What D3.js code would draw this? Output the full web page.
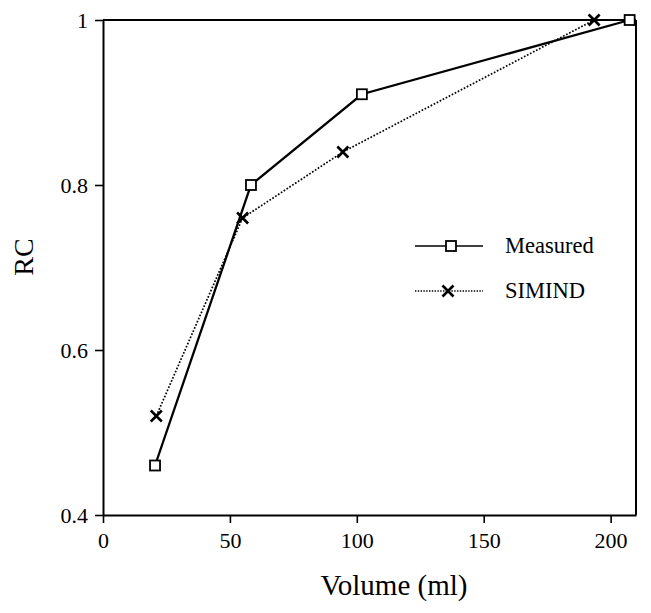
<!DOCTYPE html>
<html>
<head>
<meta charset="utf-8">
<script src="https://cdn.jsdelivr.net/npm/d3@7"></script>
<style>
  body { margin: 0; background: #fff; }
</style>
</head>
<body>
<div id="chart"></div>
<script>
// data
const measuredVolume = [20.5, 58.3, 102, 207.5];
const measuredRC     = [0.46, 0.80, 0.91, 1.0];
const simindVolume   = [21, 55, 94.5, 193.5];
const simindRC       = [0.52, 0.76, 0.84, 1.0];
const xTicks = [0, 50, 100, 150, 200];
const yTicks = [0.4, 0.6, 0.8, 1];
const legendNames = ["Measured", "SIMIND"];

const serif = "'Liberation Serif', 'Times New Roman', Times, 'DejaVu Serif', serif";

const W = 651, H = 613;
const margin = { top: 20, right: 15, bottom: 98, left: 103 };
const width = W - margin.left - margin.right;
const height = H - margin.top - margin.bottom;

const xScale = d3.scaleLinear().domain([0, 210]).range([0, width]);
const yScale = d3.scaleLinear().domain([0.4, 1]).range([height, 0]);

const svg = d3.select('#chart')
  .append('svg')
  .attr('width', W)
  .attr('height', H)
  .attr('font-family', serif)
  .append('g')
  .attr('transform', `translate(${margin.left}, ${margin.top})`);

// frame (top and right, no ticks)
svg.append('line')
  .attr('x1', 0).attr('x2', width).attr('y1', 0).attr('y2', 0)
  .attr('stroke', '#000').attr('stroke-width', 2);
svg.append('line')
  .attr('x1', width).attr('x2', width).attr('y1', 0).attr('y2', height)
  .attr('stroke', '#000').attr('stroke-width', 2);

// axes
const xAxis = svg.append('g')
  .attr('transform', `translate(0, ${height})`)
  .call(d3.axisBottom(xScale).tickValues(xTicks).tickSize(8).tickSizeOuter(0).tickPadding(9));
const yAxis = svg.append('g')
  .call(d3.axisLeft(yScale).tickValues(yTicks).tickFormat(d => d).tickSize(8).tickSizeOuter(0).tickPadding(7));

[xAxis, yAxis].forEach(a => {
  a.attr('font-family', serif).attr('font-size', 22);
  a.select('.domain').attr('stroke-width', 2);
  a.selectAll('.tick line').attr('stroke-width', 1.6);
  a.selectAll('.tick text').attr('fill', '#000');
});
yAxis.selectAll('.tick text').attr('dy', '0.36em');

// axis titles
svg.append('text')
  .attr('x', 291)
  .attr('y', 575)
  .attr('text-anchor', 'middle')
  .attr('font-family', serif)
  .attr('font-size', 29)
  .text('Volume (ml)');

svg.append('text')
  .attr('transform', `translate(${33 - margin.left}, 237) rotate(-90)`)
  .attr('text-anchor', 'middle')
  .attr('font-family', serif)
  .attr('font-size', 28)
  .text('RC');

const measured = measuredVolume.map((v, i) => ({ x: v, y: measuredRC[i] }));
const simind = simindVolume.map((v, i) => ({ x: v, y: simindRC[i] }));

const line = d3.line().x(d => xScale(d.x)).y(d => yScale(d.y));

// SIMIND dotted line
svg.append('path')
  .datum(simind)
  .attr('d', line)
  .attr('fill', 'none')
  .attr('stroke', '#000')
  .attr('stroke-width', 1.7)
  .attr('stroke-dasharray', '1.7,1.7');

// Measured solid line
svg.append('path')
  .datum(measured)
  .attr('d', line)
  .attr('fill', 'none')
  .attr('stroke', '#000')
  .attr('stroke-width', 2.3);

function drawCross(g, cx, cy) {
  const r = 5.5;
  g.append('path')
    .attr('d', `M${cx - r},${cy - r}L${cx + r},${cy + r}M${cx - r},${cy + r}L${cx + r},${cy - r}`)
    .attr('stroke', '#000')
    .attr('stroke-width', 2.6)
    .attr('fill', 'none');
}
function drawSquare(g, cx, cy) {
  const s = 10;
  g.append('rect')
    .attr('x', cx - s / 2).attr('y', cy - s / 2)
    .attr('width', s).attr('height', s)
    .attr('fill', '#fff')
    .attr('stroke', '#000')
    .attr('stroke-width', 1.8);
}

const marks = svg.append('g');
simind.forEach(d => drawCross(marks, xScale(d.x), yScale(d.y)));
measured.forEach(d => drawSquare(marks, xScale(d.x), yScale(d.y)));

// legend
const legend = svg.append('g')
  .attr('transform', `translate(${415 - margin.left}, ${246 - margin.top})`)
  .attr('font-family', serif)
  .attr('font-size', 22.5);
legend.append('line')
  .attr('x1', 0).attr('x2', 68).attr('y1', 0).attr('y2', 0)
  .attr('stroke', '#000').attr('stroke-width', 1.6);
drawSquare(legend, 36, 0);
legend.append('text').attr('x', 90).attr('y', 7).text(legendNames[0]);

legend.append('line')
  .attr('x1', 0).attr('x2', 68).attr('y1', 45).attr('y2', 45)
  .attr('stroke', '#000').attr('stroke-width', 1.4)
  .attr('stroke-dasharray', '1.4,1.4');
drawCross(legend, 33, 45);
legend.append('text').attr('x', 90).attr('y', 52).text(legendNames[1]);
</script>
</body>
</html>
